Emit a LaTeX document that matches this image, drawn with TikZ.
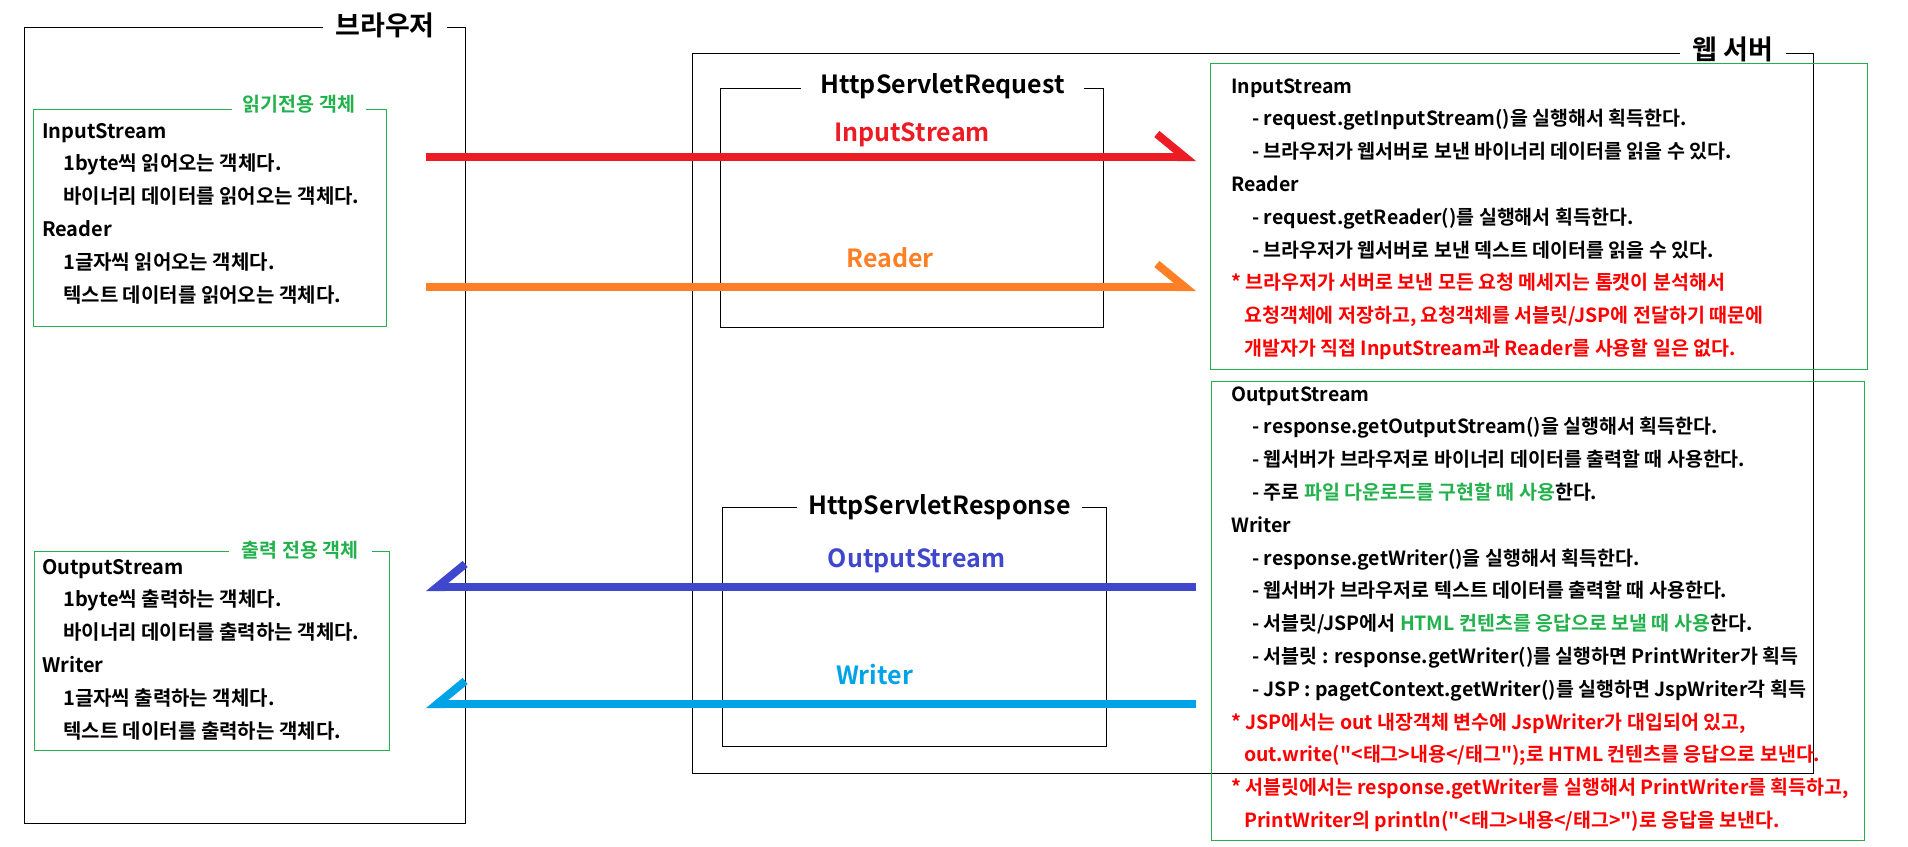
\documentclass[tikz,border=0pt]{standalone}
\usepackage{fontspec}
\setmainfont{Noto Sans CJK KR}[Ligatures=TeXOff, BoldFont={Noto Sans CJK KR Bold}]
\usepackage{xcolor}
\usepackage{tikz}
\usetikzlibrary{arrows.meta}

\definecolor{flowred}{HTML}{ED1C24}
\definecolor{floworange}{HTML}{FF7F27}
\definecolor{flowblue}{HTML}{3F48CC}
\definecolor{flowcyan}{HTML}{00A2E8}
\definecolor{boxgreen}{HTML}{22B14C}
\definecolor{notered}{HTML}{FF0000}

\begin{document}
\begin{tikzpicture}[x=1pt, y=-1pt,
  frame/.style={draw=black, line width=1pt},
  gframe/.style={draw=boxgreen, line width=1pt},
  frametitle/.style={fill=white, inner sep=0pt, anchor=base, font=\bfseries\fontsize{27}{27}\selectfont},
  classtitle/.style={frametitle, font=\bfseries\fontsize{25}{25}\selectfont},
  gtitle/.style={fill=white, inner sep=0pt, anchor=base, text=boxgreen, font=\bfseries\fontsize{19.5}{19.5}\selectfont},
  flowlabel/.style={inner sep=0pt, anchor=base, font=\bfseries\fontsize{25}{25}\selectfont},
  % anchor base = baseline of the last line
  boxtext/.style={anchor=base west, align=left, inner sep=0pt, font=\bfseries\fontsize{20}{32.8}\selectfont},
  notetext/.style={boxtext, font=\bfseries\fontsize{19.5}{32.8}\selectfont},
  flow/.style={line width=8pt},
  tipout/.style={-{Straight Barb[harpoon, length=28pt, width=46pt]}},
  tipin/.style={-{Straight Barb[harpoon, swap, length=28pt, width=46pt]}}
]
\useasboundingbox (0,0) rectangle (1908,846);

% browser side
\draw[frame] (24,27) rectangle (465,823);
\node[frametitle, minimum width=124pt] (browser) at (385,35) {브라우저};
\draw[gframe] (33,109) rectangle (386,326);
\node[gtitle, minimum width=134pt] (readonly) at (299,111) {읽기전용 객체};
\node[boxtext] (readtxt) at (42,302) {InputStream\\
  \hspace*{21pt}1byte씩 읽어오는 객체다.\\
  \hspace*{21pt}바이너리 데이터를 읽어오는 객체다.\\
  Reader\\
  \hspace*{21pt}1글자씩 읽어오는 객체다.\\
  \hspace*{21pt}텍스트 데이터를 읽어오는 객체다.};
\draw[gframe] (34,551) rectangle (389,750);
\node[gtitle, minimum width=143pt] (writeonly) at (300,557) {출력 전용 객체};
\node[boxtext] (writetxt) at (42,738) {OutputStream\\
  \hspace*{21pt}1byte씩 출력하는 객체다.\\
  \hspace*{21pt}바이너리 데이터를 출력하는 객체다.\\
  Writer\\
  \hspace*{21pt}1글자씩 출력하는 객체다.\\
  \hspace*{21pt}텍스트 데이터를 출력하는 객체다.};

% web server side
\draw[frame] (692,53) rectangle (1813,773);
\node[frametitle, minimum width=106pt] (server) at (1733,59) {웹 서버};
\draw[frame] (720,88) rectangle (1103,327);
\node[classtitle, minimum width=283pt] (request) at (942.5,93) {HttpServletRequest};
\draw[frame] (722,507) rectangle (1106,746);
\node[classtitle, minimum width=285pt] (response) at (939.5,514) {HttpServletResponse};

\draw[gframe] (1210,63) rectangle (1867,369);
\node[notetext] (reqtxt) at (1231,355.4) {InputStream\\
  \hspace*{21pt}- request.getInputStream()을 실행해서 획득한다.\\
  \hspace*{21pt}- 브라우저가 웹서버로 보낸 바이너리 데이터를 읽을 수 있다.\\
  Reader\\
  \hspace*{21pt}- request.getReader()를 실행해서 획득한다.\\
  \hspace*{21pt}- 브라우저가 웹서버로 보낸 덱스트 데이터를 읽을 수 있다.\\
  \textcolor{notered}{* 브라우저가 서버로 보낸 모든 요청 메세지는 톰캣이 분석해서}\\
  \hspace*{13pt}\textcolor{notered}{요청객체에 저장하고, 요청객체를 서블릿/JSP에 전달하기 때문에}\\
  \hspace*{13pt}\textcolor{notered}{개발자가 직접 InputStream과 Reader를 사용할 일은 없다.}};
\draw[gframe] (1211,381) rectangle (1864,840);
\node[notetext] (resptxt) at (1231,827.4) {OutputStream\\
  \hspace*{21pt}- response.getOutputStream()을 실행해서 획득한다.\\
  \hspace*{21pt}- 웹서버가 브라우저로 바이너리 데이터를 출력할 때 사용한다.\\
  \hspace*{21pt}- 주로 \textcolor{boxgreen}{파일 다운로드를 구현할 때 사용}한다.\\
  Writer\\
  \hspace*{21pt}- response.getWriter()을 실행해서 획득한다.\\
  \hspace*{21pt}- 웹서버가 브라우저로 텍스트 데이터를 출력할 때 사용한다.\\
  \hspace*{21pt}- 서블릿/JSP에서 \textcolor{boxgreen}{HTML 컨텐츠를 응답으로 보낼 때 사용}한다.\\
  \hspace*{21pt}- 서블릿 : response.getWriter()를 실행하면 PrintWriter가 획득\\
  \hspace*{21pt}- JSP : pagetContext.getWriter()를 실행하면 JspWriter각 획득\\
  \textcolor{notered}{* JSP에서는 out 내장객체 변수에 JspWriter가 대입되어 있고,}\\
  \hspace*{13pt}\textcolor{notered}{out.write("<태그>내용</태그");로 HTML 컨텐츠를 응답으로 보낸다.}\\
  \textcolor{notered}{* 서블릿에서는 response.getWriter를 실행해서 PrintWriter를 획득하고,}\\
  \hspace*{13pt}\textcolor{notered}{PrintWriter의 println("<태그>내용</태그>")로 응답을 보낸다.}};

% request streams (browser -> server)
\coordinate (isL) at (426,157);
\coordinate (isR) at (1196,157);
\coordinate (rdL) at (426,287);
\coordinate (rdR) at (1196,287);
\draw[flow, flowred, tipout] (isL) -- (isR);
\node[flowlabel, text=flowred] (islabel) at (912,141) {InputStream};
\draw[flow, floworange, tipout] (rdL) -- (rdR);
\node[flowlabel, text=floworange] (rdlabel) at (890,267) {Reader};

% response streams (server -> browser)
\coordinate (osL) at (426,587);
\coordinate (osR) at (1196,587);
\coordinate (wrL) at (426,704);
\coordinate (wrR) at (1196,704);
\draw[flow, flowblue, tipin] (osR) -- (osL);
\node[flowlabel, text=flowblue] (oslabel) at (916.5,567) {OutputStream};
\draw[flow, flowcyan, tipin] (wrR) -- (wrL);
\node[flowlabel, text=flowcyan] (wrlabel) at (874.5,684) {Writer};
\end{tikzpicture}
\end{document}
